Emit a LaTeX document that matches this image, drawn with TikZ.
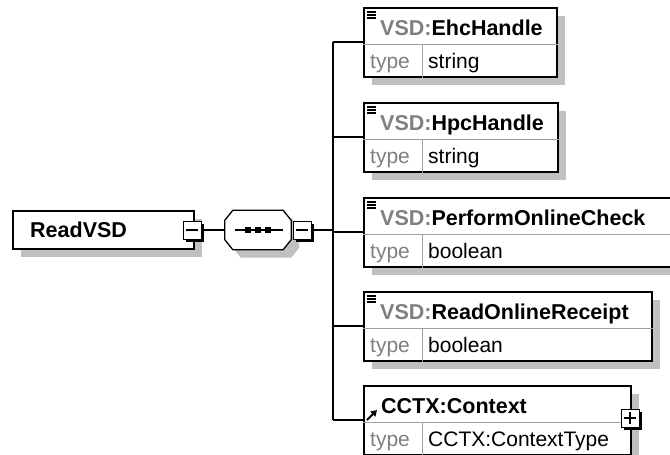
\documentclass[tikz,border=0pt]{standalone}
\usepackage{fontspec}
\setmainfont{Liberation Sans}
\usetikzlibrary{arrows.meta,shadows}
\definecolor{nsgray}{HTML}{808080}
\definecolor{shadegray}{HTML}{C0C0C0}
\definecolor{divgray}{HTML}{A0A0A0}
\tikzset{
  elbox/.style={draw,line width=1.6pt,fill=white,anchor=north west,minimum height=69pt,inner sep=0pt,
    drop shadow={shadow xshift=8pt,shadow yshift=-8pt,fill=shadegray,opacity=1}},
  elname/.style={anchor=base west,inner sep=0pt,font=\fontsize{21.5}{25}\selectfont\bfseries},
  eltype/.style={anchor=base west,inner sep=0pt,font=\fontsize{21}{25}\selectfont,text=nsgray},
  elval/.style={anchor=base west,inner sep=0pt,font=\fontsize{21}{25}\selectfont},
  divline/.style={divgray,line width=0.9pt},
  iconbar/.style={line width=1.4pt},
  refarrow/.style={-{Triangle[length=6pt,width=7pt]},line width=1.8pt},
  conn/.style={line width=1.5pt},
  togglebox/.style={draw,fill=white,line width=1pt,minimum size=18pt,inner sep=0pt,
    drop shadow={shadow xshift=2.5pt,shadow yshift=-2.5pt,fill=black,opacity=1}},
  toggleline/.style={line width=1.3pt},
  seqspot/.style={minimum width=66pt,minimum height=39pt,inner sep=0pt},
  seqline/.style={draw,line width=1.3pt,fill=white,
    drop shadow={shadow xshift=8pt,shadow yshift=-8pt,fill=shadegray,opacity=1}},
}

\begin{document}
\begin{tikzpicture}[x=1pt,y=-1pt]
  \clip (0,0) rectangle (670,455);

  % root element
  \node[elbox,minimum width=181pt,minimum height=38pt] (read) at (12,210) {};
  \node[elname] (readname) at ([xshift=18pt,yshift=-27pt]read.north west) {ReadVSD};
  \node[togglebox] (readminus) at (192,230) {};
  \draw[toggleline] ([xshift=-6pt]readminus.center) -- ([xshift=6pt]readminus.center);

  % sequence compositor
  \node[seqspot] (seq) at (258,230) {};
  \path[seqline] ([xshift=8pt]seq.north west) -- ([xshift=-8pt]seq.north east)
    -- ([yshift=-10pt]seq.north east) -- ([yshift=10pt]seq.south east)
    -- ([xshift=-8pt]seq.south east) -- ([xshift=8pt]seq.south west)
    -- ([yshift=10pt]seq.south west) -- ([yshift=-10pt]seq.north west) -- cycle;
  \draw[line width=1.2pt] ([xshift=-23pt]seq.center) -- ([xshift=25pt]seq.center);
  \foreach \dx in {-10,0,10}
    \fill ([xshift=\dx pt]seq.center) +(-2.6pt,-2.6pt) rectangle +(2.6pt,2.6pt);
  \node[togglebox] (seqminus) at (302,230) {};
  \draw[toggleline] ([xshift=-6pt]seqminus.center) -- ([xshift=6pt]seqminus.center);

  % VSD:EhcHandle
  \node[elbox,minimum width=193pt] (ehc) at (363,7) {};
  \node[elname] (ehcname) at ([xshift=17pt,yshift=-28pt]ehc.north west) {\textcolor{nsgray}{VSD:}EhcHandle};
  \draw[divline] ([yshift=-37pt]ehc.north west) -- ([yshift=-37pt]ehc.north east);
  \draw[divline] ([xshift=59pt,yshift=-37pt]ehc.north west) -- ([xshift=59pt]ehc.south west);
  \node[eltype] (ehctype) at ([xshift=7pt,yshift=-61pt]ehc.north west) {type};
  \node[elval] (ehcval) at ([xshift=65pt,yshift=-61pt]ehc.north west) {string};
  \foreach \dy in {5,8,11}
    \draw[iconbar] ([xshift=4pt,yshift=-\dy pt]ehc.north west) -- ++(9pt,0pt);

  % VSD:HpcHandle
  \node[elbox,minimum width=194pt] (hpc) at (363,102) {};
  \node[elname] (hpcname) at ([xshift=17pt,yshift=-28pt]hpc.north west) {\textcolor{nsgray}{VSD:}HpcHandle};
  \draw[divline] ([yshift=-37pt]hpc.north west) -- ([yshift=-37pt]hpc.north east);
  \draw[divline] ([xshift=59pt,yshift=-37pt]hpc.north west) -- ([xshift=59pt]hpc.south west);
  \node[eltype] (hpctype) at ([xshift=7pt,yshift=-61pt]hpc.north west) {type};
  \node[elval] (hpcval) at ([xshift=65pt,yshift=-61pt]hpc.north west) {string};
  \foreach \dy in {5,8,11}
    \draw[iconbar] ([xshift=4pt,yshift=-\dy pt]hpc.north west) -- ++(9pt,0pt);

  % VSD:PerformOnlineCheck
  \node[elbox,minimum width=310pt] (poc) at (363,197) {};
  \node[elname] (pocname) at ([xshift=17pt,yshift=-28pt]poc.north west) {\textcolor{nsgray}{VSD:}PerformOnlineCheck};
  \draw[divline] ([yshift=-37pt]poc.north west) -- ([yshift=-37pt]poc.north east);
  \draw[divline] ([xshift=59pt,yshift=-37pt]poc.north west) -- ([xshift=59pt]poc.south west);
  \node[eltype] (poctype) at ([xshift=7pt,yshift=-61pt]poc.north west) {type};
  \node[elval] (pocval) at ([xshift=65pt,yshift=-61pt]poc.north west) {boolean};
  \foreach \dy in {5,8,11}
    \draw[iconbar] ([xshift=4pt,yshift=-\dy pt]poc.north west) -- ++(9pt,0pt);

  % VSD:ReadOnlineReceipt
  \node[elbox,minimum width=288pt] (roc) at (363,291) {};
  \node[elname] (rocname) at ([xshift=17pt,yshift=-28pt]roc.north west) {\textcolor{nsgray}{VSD:}ReadOnlineReceipt};
  \draw[divline] ([yshift=-37pt]roc.north west) -- ([yshift=-37pt]roc.north east);
  \draw[divline] ([xshift=59pt,yshift=-37pt]roc.north west) -- ([xshift=59pt]roc.south west);
  \node[eltype] (roctype) at ([xshift=7pt,yshift=-61pt]roc.north west) {type};
  \node[elval] (rocval) at ([xshift=65pt,yshift=-61pt]roc.north west) {boolean};
  \foreach \dy in {5,8,11}
    \draw[iconbar] ([xshift=4pt,yshift=-\dy pt]roc.north west) -- ++(9pt,0pt);

  % CCTX:Context (reference)
  \node[elbox,minimum width=267pt] (ctx) at (363,385) {};
  \node[elname] (ctxname) at ([xshift=18pt,yshift=-28pt]ctx.north west) {CCTX:Context};
  \draw[divline] ([yshift=-37pt]ctx.north west) -- ([yshift=-37pt]ctx.north east);
  \draw[divline] ([xshift=59pt,yshift=-37pt]ctx.north west) -- ([xshift=59pt]ctx.south west);
  \node[eltype] (ctxtype) at ([xshift=7pt,yshift=-61pt]ctx.north west) {type};
  \node[elval] (ctxval) at ([xshift=65pt,yshift=-61pt]ctx.north west) {CCTX:ContextType};
  \draw[refarrow] ([xshift=4pt,yshift=-35pt]ctx.north west) -- ++(10pt,10pt);
  \node[togglebox] (ctxplus) at (630,418) {};
  \draw[toggleline] ([xshift=-6pt]ctxplus.center) -- ([xshift=6pt]ctxplus.center);
  \draw[toggleline] ([yshift=-6pt]ctxplus.center) -- ([yshift=6pt]ctxplus.center);

  % connectors
  \coordinate (trunk) at (333,230);
  \coordinate (ehcpin) at ([yshift=-35pt]ehc.north west);
  \coordinate (hpcpin) at ([yshift=-35pt]hpc.north west);
  \coordinate (pocpin) at ([yshift=-35pt]poc.north west);
  \coordinate (rocpin) at ([yshift=-35pt]roc.north west);
  \coordinate (ctxpin) at ([yshift=-35pt]ctx.north west);
  \draw[conn] (readminus.east) -- (seq.west);
  \draw[conn] (seqminus.east) -- (trunk);
  \draw[conn] (trunk |- ehcpin) -- (trunk |- ctxpin);
  \draw[conn] (trunk |- ehcpin) -- (ehcpin);
  \draw[conn] (trunk |- hpcpin) -- (hpcpin);
  \draw[conn] (trunk |- pocpin) -- (pocpin);
  \draw[conn] (trunk |- rocpin) -- (rocpin);
  \draw[conn] (trunk |- ctxpin) -- (ctxpin);

\end{tikzpicture}
\end{document}
